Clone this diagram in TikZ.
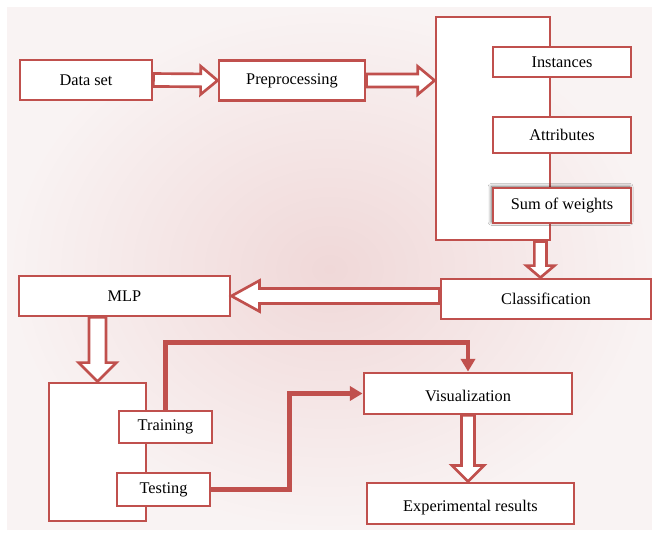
\documentclass[tikz,border=0pt]{standalone}
\usepackage{fontspec}
\setmainfont{Liberation Serif}
\usetikzlibrary{calc}
\usetikzlibrary{positioning, arrows.meta}
\usetikzlibrary{shadows.blur}

\definecolor{boxred}{RGB}{192,80,77}
\definecolor{bgpink}{RGB}{240,216,216}
\definecolor{bgpale}{RGB}{249,243,243}

% hollow block arrow: from, to, half shaft, half head, head length
\newcommand{\blockarrow}[5]{%
    \coordinate (bs) at (#1);
    \coordinate (bt) at (#2);
    \coordinate (bh) at ($(bt)!#5!(bs)$);
    \draw[blockarrow] ($(bs)!#3!90:(bt)$) -- ($(bh)!#3!90:(bt)$) -- ($(bh)!#4!90:(bt)$) -- (bt)
        -- ($(bh)!#4!-90:(bt)$) -- ($(bh)!#3!-90:(bt)$) -- ($(bs)!#3!-90:(bt)$) -- cycle;
}

\begin{document}
\begin{tikzpicture}[x=0.025cm, y=-0.025cm]
        % Define styles for shapes
        \tikzstyle{box} = [draw=boxred, fill=white, line width=2pt, inner sep=0pt, font=\fontsize{11.6}{14}\selectfont]
        \tikzstyle{lowtext} = [text height=1.4em, text depth=0.2em]
        \tikzstyle{blockarrow} = [draw=boxred, fill=white, line width=1.9pt]
        \tikzstyle{link} = [draw=boxred, line width=3.2pt, -{Triangle[length=9pt, width=10pt]}]

        % Background
        \useasboundingbox (0,0) rectangle (652,536);
        \shade[inner color=bgpink, outer color=bgpale] (7,8) rectangle (652,530);

        % Draw shapes
        \node[box, minimum width=3.3cm, minimum height=1cm] (data) at (86,80) {Data set};
        \node[box, minimum width=3.65cm, minimum height=1cm] (prep) at (292,80.5) {Preprocessing};
        \node[box, minimum width=2.85cm, minimum height=5.575cm] (attrbox) at (493,128.5) {};
        \node[box, minimum width=3.45cm, minimum height=0.75cm] (inst) at (562,62) {Instances};
        \node[box, minimum width=3.45cm, minimum height=0.9cm] (attr) at (562,135) {Attributes};
        \node[box, blur shadow={shadow xshift=-1pt, shadow yshift=0.8pt, shadow blur radius=2.5pt, shadow blur steps=10, shadow opacity=60},
            minimum width=3.45cm, minimum height=0.875cm] (sumw) at (562,205.5) {Sum of weights};
        \node[box, minimum width=5.25cm, minimum height=1cm] (clas) at (546,299) {Classification};
        \node[box, minimum width=5.275cm, minimum height=1cm] (mlp) at (124.5,296) {MLP};
        \node[box, minimum width=2.425cm, minimum height=3.45cm] (mlpbox) at (97.5,452) {};
        \node[box, minimum width=2.325cm, minimum height=0.8cm] (train) at (165.5,427) {Training};
        \node[box, minimum width=2.325cm, minimum height=0.825cm] (test) at (163.5,489.5) {Testing};
        \node[box, lowtext, minimum width=5.2cm, minimum height=1.025cm] (vis) at (468,393.5) {Visualization};
        \node[box, lowtext, minimum width=5.175cm, minimum height=1.025cm] (exp) at (470.5,503.5) {Experimental results};

        % Draw block arrows
        \blockarrow{data.east}{prep.west}{4.6pt}{10pt}{12pt}
        \blockarrow{prep.east}{prep.east -| attrbox.west}{4.6pt}{10pt}{12pt}
        \coordinate (down) at ($(attrbox.south east)+(-11,0)$);
        \blockarrow{down}{down |- clas.north}{4.3pt}{10pt}{8.5pt}
        \blockarrow{mlp.east -| clas.west}{mlp.east}{5.3pt}{11pt}{20pt}
        \blockarrow{mlp.south -| mlpbox.north}{mlpbox.north}{6pt}{13.5pt}{13.5pt}
        \blockarrow{vis.south}{vis.south |- exp.north}{4.6pt}{11.4pt}{11.4pt}

        % lines from training and testing to visualization
        \draw[link] (train.north) -- ++(0,-67) -| (vis.north);
        \draw[link] (test.east) -- ++(78,0) |- (vis.west);
\end{tikzpicture}
\end{document}
